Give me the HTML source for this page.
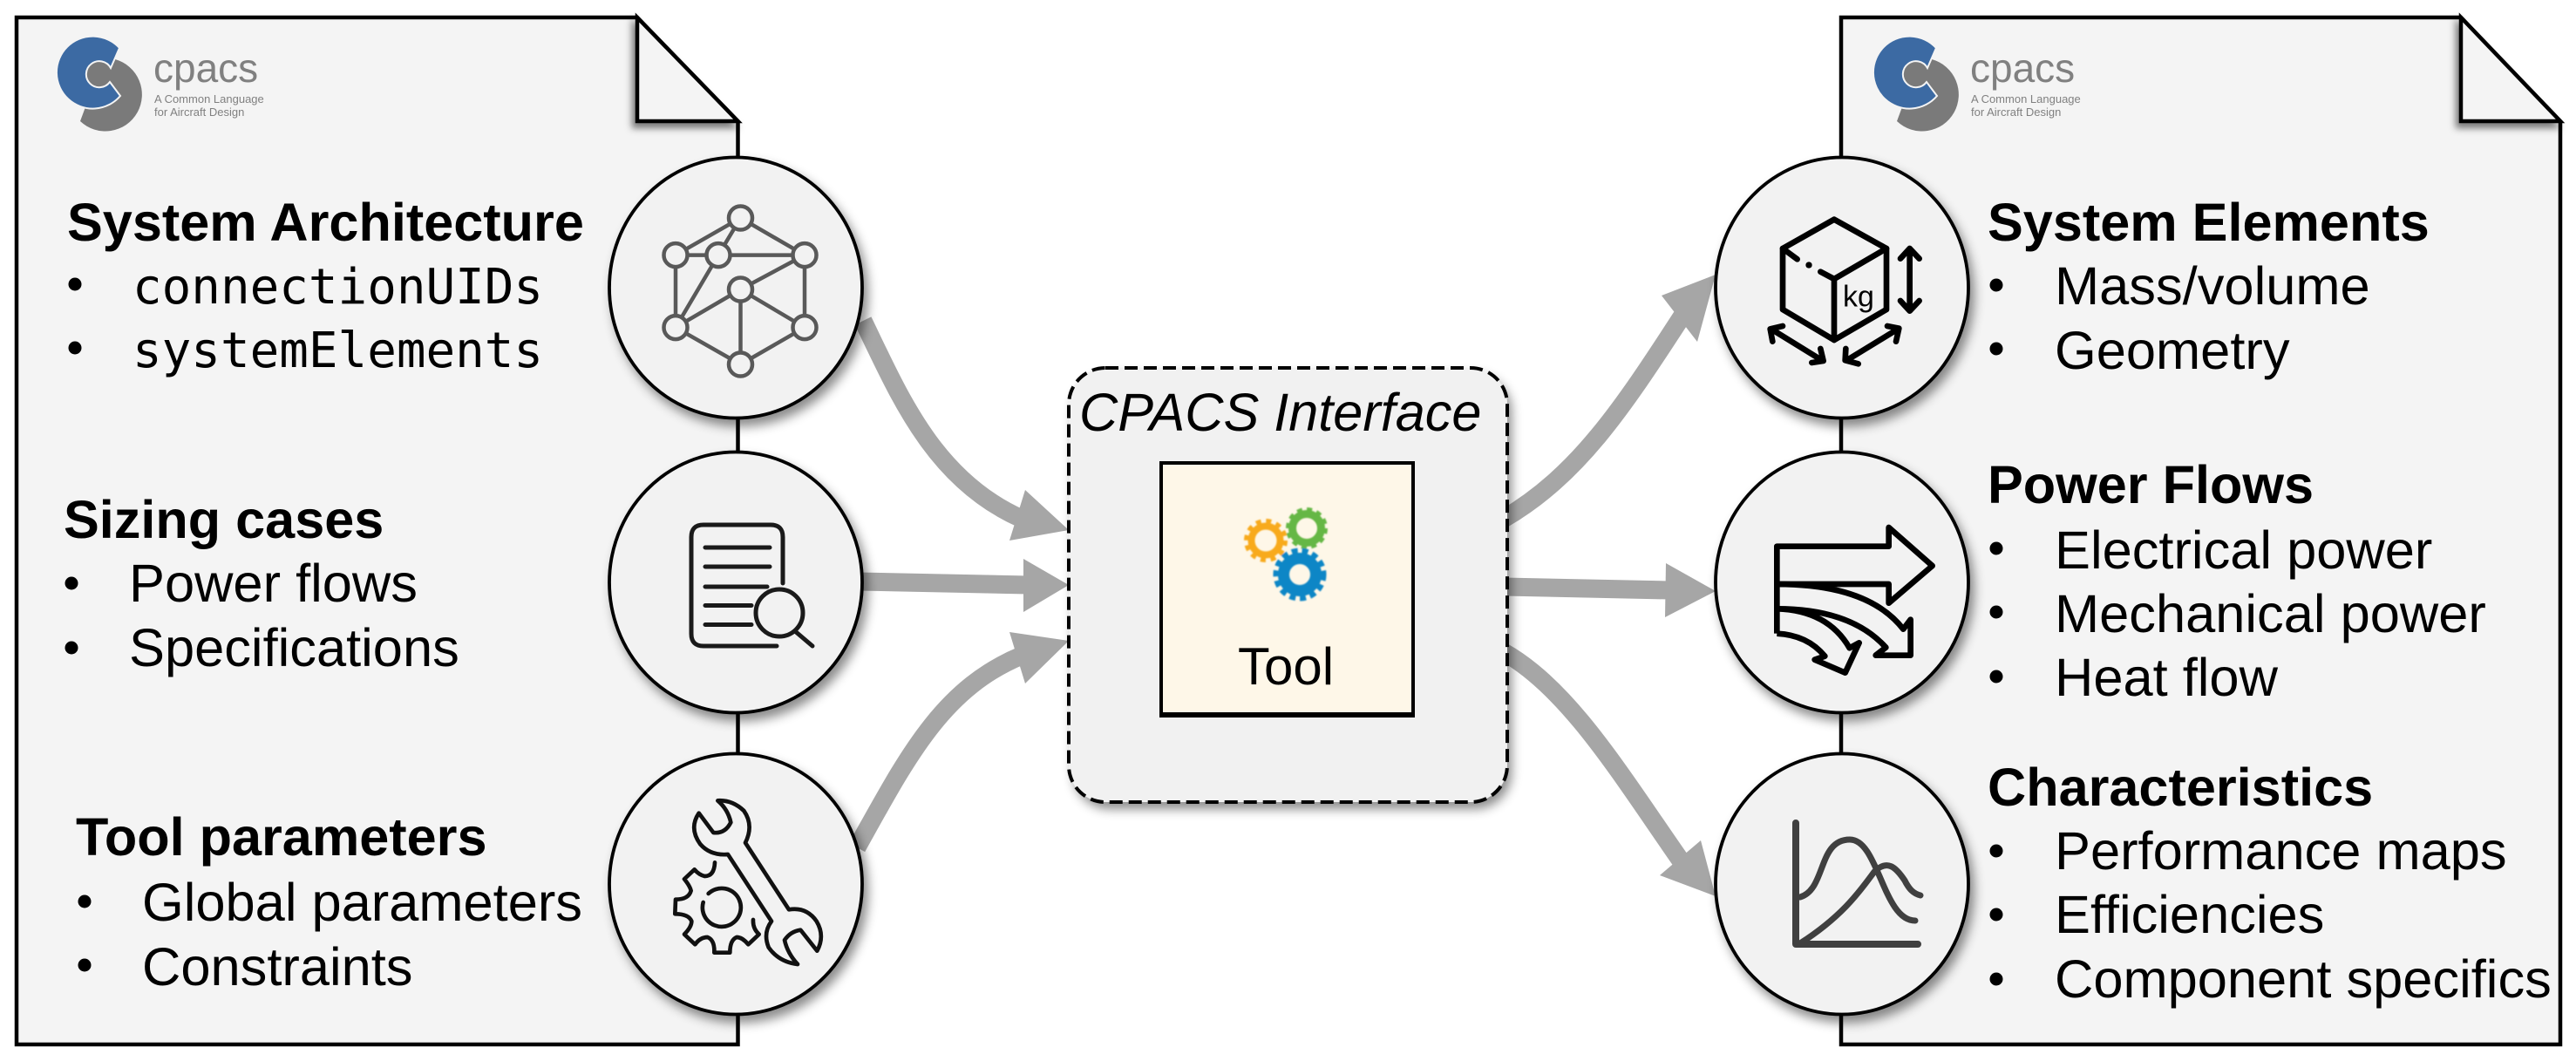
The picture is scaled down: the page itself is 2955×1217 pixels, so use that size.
<!DOCTYPE html>
<html>
<head>
<meta charset="utf-8">
<style>
html,body{margin:0;padding:0;background:#fff;width:2955px;height:1217px;overflow:hidden}
svg{display:block}
text{font-family:"Liberation Sans",sans-serif;fill:#000}
.h{font-weight:bold;font-size:61.2px}
.b{font-size:61.4px}
.m{font-family:"DejaVu Sans Mono","Liberation Mono",monospace;font-size:55.9px}
.c1{font-size:46px;fill:#808080}
.c2{font-size:13px;fill:#808080}
.d{fill:#f4f4f4;stroke:#000;stroke-width:4.5;stroke-linejoin:miter}
.n{fill:#f2f2f2;stroke:#000;stroke-width:3.8}
.a{fill:none;stroke:#a6a6a6;stroke-width:21}
.ah{fill:#a6a6a6}
.bu{fill:#000}
</style>
</head>
<body>
<svg width="2955" height="1217" viewBox="0 0 2955 1217" xmlns="http://www.w3.org/2000/svg">
<defs>
<filter id="sh" x="-20%" y="-20%" width="140%" height="140%"><feDropShadow dx="5" dy="8" stdDeviation="6" flood-color="#000" flood-opacity=".45"/></filter>
<filter id="shf" x="-30%" y="-30%" width="160%" height="160%"><feDropShadow dx="-4" dy="6" stdDeviation="4" flood-color="#000" flood-opacity=".5"/></filter>
<filter id="bl" x="-10%" y="-10%" width="120%" height="120%"><feGaussianBlur stdDeviation=".7"/></filter>
</defs>

<!-- left document -->
<path class="d" d="M19,20 H731 L846.500,139 V1198 H19 Z"/>
<path d="M731,20 V139 H846.500 Z" fill="#f4f4f4" stroke="#000" stroke-width="4.5" filter="url(#shf)"/>

<!-- right document -->
<path class="d" d="M2112,20 H2823 L2937,139 V1198 H2112 Z"/>
<path d="M2823,20 V139 H2937 Z" fill="#f4f4f4" stroke="#000" stroke-width="4.5" filter="url(#shf)"/>

<!-- logos -->
<g>
<path d="M132,68 A42,42 0 1 1 92,139 L112,85 Z" fill="#7a7a7a"/>
<circle cx="112" cy="85" r="16" fill="#7a7a7a"/>
<path d="M137,55 A41.500,41.500 0 1 0 138,110 L126,94 A15,15 0 1 1 127,78 Z" fill="#3c6aa3" stroke="#f4f4f4" stroke-width="2"/>
<text class="c1" x="176" y="94">cpacs</text>
<text class="c2" x="177" y="118">A Common Language</text>
<text class="c2" x="177" y="133">for Aircraft Design</text>
</g>
<g transform="translate(2084,0)">
<path d="M132,68 A42,42 0 1 1 92,139 L112,85 Z" fill="#7a7a7a"/>
<circle cx="112" cy="85" r="16" fill="#7a7a7a"/>
<path d="M137,55 A41.500,41.500 0 1 0 138,110 L126,94 A15,15 0 1 1 127,78 Z" fill="#3c6aa3" stroke="#f4f4f4" stroke-width="2"/>
<text class="c1" x="176" y="94">cpacs</text>
<text class="c2" x="177" y="118">A Common Language</text>
<text class="c2" x="177" y="133">for Aircraft Design</text>
</g>

<!-- arrows -->
<path class="a" d="M990,368 C1030,450 1070,550 1172,595"/>
<polygon class="ah" points="1226,608 1176,562 1158,620"/>
<path class="a" d="M985,667 L1180,671"/>
<polygon class="ah" points="1226,671 1174,641 1174,702"/>
<path class="a" d="M983,972 C1040,870 1080,790 1172,752"/>
<polygon class="ah" points="1226,735 1158,725 1176,784"/>
<path class="a" d="M1725,595 C1810,545 1860,470 1930,362"/>
<polygon class="ah" points="1968,315 1906,339 1947,392"/>
<path class="a" d="M1725,673 L1915,677"/>
<polygon class="ah" points="1968,678 1911,646 1910,708"/>
<path class="a" d="M1725,748 C1800,790 1860,890 1930,990"/>
<polygon class="ah" points="1968,1028 1951,964 1904,1004"/>

<!-- left circles -->
<ellipse class="n" cx="844" cy="330" rx="145" ry="149.500" filter="url(#sh)"/>
<ellipse class="n" cx="844" cy="668" rx="145" ry="149.500" filter="url(#sh)"/>
<ellipse class="n" cx="844" cy="1014" rx="145" ry="149.500" filter="url(#sh)"/>
<!-- right circles -->
<ellipse class="n" cx="2113" cy="330" rx="145" ry="149.500" filter="url(#sh)"/>
<ellipse class="n" cx="2113" cy="668" rx="145" ry="149.500" filter="url(#sh)"/>
<ellipse class="n" cx="2113" cy="1014" rx="145" ry="149.500" filter="url(#sh)"/>

<!-- network icon -->
<g stroke="#595959" stroke-width="4.5" fill="none">
<path d="M849.500,250 L775,292.600 M849.500,250 L824,292.600 M849.500,250 L923,292.600 M775,292.600 H923 M775,292.600 V375.600 M824,292.600 L775,375.600 M923,292.600 V375.600 M923,292.600 L849.500,332 M849.500,332 L775,375.600 M849.500,332 L923,375.600 M849.500,332 V418 M775,375.600 L849.500,418 M923,375.600 L849.500,418"/>
<g fill="#f2f2f2">
<circle cx="849.500" cy="250" r="13.500"/><circle cx="775" cy="292.600" r="13.500"/><circle cx="824" cy="292.600" r="13.500"/><circle cx="923" cy="292.600" r="13.500"/><circle cx="849.500" cy="332" r="13.500"/><circle cx="775" cy="375.600" r="13.500"/><circle cx="923" cy="375.600" r="13.500"/><circle cx="849.500" cy="418" r="13.500"/>
</g>
</g>

<!-- document search icon -->
<g stroke="#1a1a1a" stroke-width="5" fill="none" stroke-linecap="round">
<path d="M898,669 V616 Q898,602 884,602 H807 Q793,602 793,616 V727 Q793,741 807,741 H891"/>
<path d="M809,628 H883 M809,650 H883 M809,673 H880 M809,694.500 H862 M809,716.500 H862"/>
<circle cx="894" cy="703" r="27"/>
<path d="M912,724 L932,741"/>
</g>

<!-- wrench and gear icon -->
<g transform="translate(740,900) scale(.33333)" fill="none" stroke="#111" stroke-width="14" stroke-linejoin="round" stroke-linecap="round">
<path d="M240,268 Q238,315 205,315 Q185,310 170,292 L135,325 Q155,350 158,365 Q150,395 105,395 L103,445 Q150,445 160,470 Q160,490 135,515 L172,550 Q190,525 215,525 Q240,535 238,578 L292,578 Q292,535 315,525 Q335,525 355,550 L392,515 Q370,495 372,465"/>
<path d="M200,405 A66,66 0 1 0 218,375"/>
<path d="M250,55 Q300,52 340,90 Q375,140 345,200 L495,430 Q555,420 590,470 Q620,520 592,572 L535,500 Q500,505 480,535 Q490,580 525,618 Q460,610 425,560 Q405,510 435,470 L285,240 Q225,245 190,205 Q150,150 185,98 L235,165 Q275,170 295,130 Q285,85 250,55 Z"/>
</g>

<!-- cube icon -->
<g transform="translate(2020,240) scale(.33333)" fill="none" stroke="#000" stroke-width="20" stroke-linejoin="round" stroke-linecap="round">
<path d="M75,135 L252,35 L432,135 V345 L252,450 L75,345 Z"/>
<path d="M432,135 L252,240 V450"/>
<path d="M75,135 L125,172 M205,215 L252,240"/>
<path d="M165,192 h.1" stroke-width="22"/>
<path d="M512,135 V350 M480,170 L512,135 L545,170 M480,315 L512,350 L545,315"/>
<path d="M35,412 L210,520 M40,455 L32,412 L75,402 M175,528 L215,522 L205,480"/>
<path d="M475,410 L295,520 M435,402 L475,410 L465,455 M292,480 L290,520 L335,532"/>
</g>
<text x="2114" y="351.500" font-size="34">kg</text>

<!-- flows icon -->
<g transform="translate(2010,580) scale(.33333)" fill="none" stroke="#000" stroke-width="20" stroke-linejoin="round">
<path d="M85,440 V140 H470 V75 L620,207 L470,335 V270 H85"/>
<path d="M85,270 Q400,270 520,425 L545,392 V515 H425 L460,488 Q340,355 85,355 Q260,360 335,490 L368,472 L320,575 L215,530 L250,518 Q190,445 85,440"/>
</g>

<!-- chart icon -->
<g stroke="#404040" fill="none" stroke-linecap="round" stroke-linejoin="round">
<path d="M2060,944 V1083 H2200" stroke-width="8"/>
<path d="M2065,1029 C2095,1020 2085,963 2122,963 C2155,963 2160,1056 2197,1056" stroke-width="7"/>
<path d="M2065,1082 C2115,1050 2135,1020 2150,1000 C2165,985 2175,995 2185,1010 C2190,1020 2195,1025 2203,1027" stroke-width="7"/>
</g>

<!-- centre interface -->
<rect x="1226" y="422" width="503" height="498" rx="42" ry="42" fill="#f1f1f1" filter="url(#sh)"/>
<rect x="1226" y="422" width="503" height="498" rx="42" ry="42" fill="none" stroke="#000" stroke-width="4" stroke-dasharray="15 7"/>
<rect x="1332" y="531" width="289" height="289" fill="#fef7e8" stroke="#000" stroke-width="4"/>
<path d="M1330,820 H1623" stroke="#000" stroke-width="6"/>
<text x="1238" y="494" font-size="61.2" font-style="italic">CPACS Interface</text>
<text x="1475" y="785" font-size="60" text-anchor="middle">Tool</text>
<!-- gears -->
<g fill="none" filter="url(#bl)">
<circle cx="1452" cy="620" r="16.500" stroke="#f8aa1b" stroke-width="8"/>
<circle cx="1452" cy="620" r="22.500" stroke="#f8aa1b" stroke-width="5" stroke-dasharray="6 5.800"/>
<circle cx="1499" cy="606" r="16.500" stroke="#65b744" stroke-width="9"/>
<circle cx="1499" cy="606" r="21.500" stroke="#65b744" stroke-width="5" stroke-dasharray="6 5.250"/>
<circle cx="1491" cy="659" r="18.500" stroke="#0e86c6" stroke-width="13"/>
<circle cx="1491" cy="659" r="27.500" stroke="#0e86c6" stroke-width="6" stroke-dasharray="7 5"/>
</g>

<!-- left texts -->
<text class="h" x="77" y="276">System Architecture</text>
<circle class="bu" cx="86" cy="326" r="7.500"/>
<text class="m" x="152" y="348">connectionUIDs</text>
<circle class="bu" cx="86" cy="399" r="7.500"/>
<text class="m" x="152" y="421">systemElements</text>

<text class="h" x="73" y="617">Sizing cases</text>
<circle class="bu" cx="82" cy="669" r="7.500"/>
<text class="b" x="148" y="690">Power flows</text>
<circle class="bu" cx="82" cy="743" r="7.500"/>
<text class="b" x="148" y="764">Specifications</text>

<text class="h" x="87" y="981">Tool parameters</text>
<circle class="bu" cx="97" cy="1034" r="7.500"/>
<text class="b" x="163" y="1056">Global parameters</text>
<circle class="bu" cx="97" cy="1107" r="7.500"/>
<text class="b" x="163" y="1130">Constraints</text>

<!-- right texts -->
<text class="h" x="2280" y="276">System Elements</text>
<circle class="bu" cx="2290" cy="327" r="7.500"/>
<text class="b" x="2357" y="349">Mass/volume</text>
<circle class="bu" cx="2290" cy="400" r="7.500"/>
<text class="b" x="2357" y="423">Geometry</text>

<text class="h" x="2280" y="577">Power Flows</text>
<circle class="bu" cx="2290" cy="629" r="7.500"/>
<text class="b" x="2357" y="652">Electrical power</text>
<circle class="bu" cx="2290" cy="702" r="7.500"/>
<text class="b" x="2357" y="725">Mechanical power</text>
<circle class="bu" cx="2290" cy="776" r="7.500"/>
<text class="b" x="2357" y="798">Heat flow</text>

<text class="h" x="2280" y="924">Characteristics</text>
<circle class="bu" cx="2290" cy="976" r="7.500"/>
<text class="b" x="2357" y="997">Performance maps</text>
<circle class="bu" cx="2290" cy="1049" r="7.500"/>
<text class="b" x="2357" y="1070">Efficiencies</text>
<circle class="bu" cx="2290" cy="1123" r="7.500"/>
<text class="b" x="2357" y="1144">Component specifics</text>
</svg>
</body>
</html>
